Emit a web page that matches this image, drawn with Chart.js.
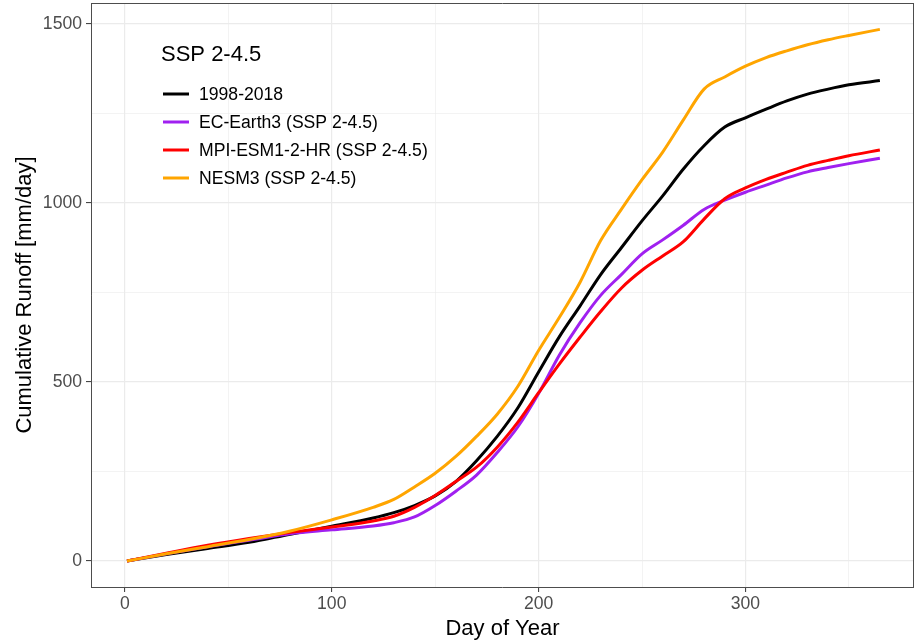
<!DOCTYPE html>
<html>
<head>
<meta charset="utf-8">
<script src="https://cdn.jsdelivr.net/npm/chart.js@4"></script>
<style>
  body { margin: 0; background: #fff; }
  #wrap { width: 914px; height: 640px; }
</style>
</head>
<body>
<div id="wrap"><canvas id="runoffChart"></canvas></div>
<script>
// Données
const days = [1, 20, 40, 60, 80, 100, 120, 130, 140, 150, 160, 170, 180, 190, 200, 210, 220, 230, 240, 250, 260, 270, 280, 290, 300, 310, 320, 330, 340, 350, 365];
const obs = [0, 18, 35, 52, 75, 97, 120, 135, 155, 182, 222, 280, 348, 428, 528, 626, 712, 800, 875, 950, 1020, 1095, 1160, 1212, 1238, 1262, 1285, 1304, 1318, 1330, 1342];
const ecEarth = [0, 20, 40, 58, 76, 87, 98, 107, 123, 155, 195, 240, 303, 375, 468, 575, 665, 742, 800, 858, 897, 938, 982, 1008, 1030, 1050, 1070, 1087, 1099, 1110, 1125];
const mpiEsm = [0, 22, 44, 63, 80, 95, 112, 125, 150, 183, 222, 262, 318, 388, 470, 550, 625, 697, 762, 812, 852, 892, 955, 1012, 1042, 1066, 1086, 1105, 1119, 1132, 1148];
const nesm = [0, 20, 40, 60, 84, 115, 150, 172, 207, 245, 292, 348, 410, 488, 588, 680, 778, 895, 982, 1065, 1142, 1232, 1318, 1352, 1382, 1406, 1425, 1442, 1456, 1468, 1485];

const seriesLabels = ['1998-2018', 'EC-Earth3 (SSP 2-4.5)', 'MPI-ESM1-2-HR (SSP 2-4.5)', 'NESM3 (SSP 2-4.5)'];
const seriesColors = ['#000000', '#A020F0', '#FF0000', '#FFA500'];
const seriesValues = [obs, ecEarth, mpiEsm, nesm];

const xTicks = [0, 50, 100, 150, 200, 250, 300, 350];
const yTicks = [0, 250, 500, 750, 1000, 1250, 1500];

const FONT = '"Liberation Sans", Arial, sans-serif';

const datasets = seriesValues.map((vals, i) => ({
    label: seriesLabels[i],
    data: days.map((d, k) => ({ x: d, y: vals[k] })),
    borderColor: seriesColors[i],
    backgroundColor: seriesColors[i],
    borderWidth: 3,
    pointRadius: 0,
    cubicInterpolationMode: 'monotone',
    order: seriesValues.length - i,
}));

// Légende dessinée dans la zone du graphique (style ggplot)
const legendPlugin = {
    id: 'innerLegend',
    afterDatasetsDraw(chart) {
        const c = chart.ctx;
        c.save();
        c.textBaseline = 'middle';
        c.textAlign = 'left';
        c.fillStyle = '#000';
        c.font = '22px ' + FONT;
        c.fillText('SSP 2-4.5', 161, 55);
        c.font = '17.6px ' + FONT;
        seriesLabels.forEach((lab, i) => {
            const y = 94 + i * 28;
            c.strokeStyle = seriesColors[i];
            c.lineWidth = 3;
            c.beginPath();
            c.moveTo(163, y);
            c.lineTo(189, y);
            c.stroke();
            c.fillStyle = '#000';
            c.fillText(lab, 199, y + 1);
        });
        // bordure haute / droite du panneau
        const a = chart.chartArea;
        c.strokeStyle = '#4d4d4d';
        c.lineWidth = 1;
        c.beginPath();
        c.moveTo(a.left, a.top + 0.5);
        c.lineTo(a.right, a.top + 0.5);
        c.moveTo(a.right - 0.5, a.top);
        c.lineTo(a.right - 0.5, a.bottom);
        c.stroke();
        c.restore();
    },
};

const ctx = document.getElementById('runoffChart').getContext('2d');
const runoffChart = new Chart(ctx, {
    type: 'line',
    data: { datasets: datasets },
    options: {
        responsive: true,
        maintainAspectRatio: false,
        animation: false,
        layout: { padding: { top: 3, right: 0, left: 0, bottom: 0 } },
        plugins: {
            legend: { display: false },
            tooltip: { enabled: false },
        },
        scales: {
            x: {
                type: 'linear',
                min: -16.4,
                max: 381.5,
                afterBuildTicks: (axis) => { axis.ticks = xTicks.map((v) => ({ value: v })); },
                afterFit: (axis) => {
                    axis.height = 53;
                    axis.paddingLeft = 0;
                    axis.paddingRight = 0;
                },
                ticks: {
                    callback: (v) => (v % 100 === 0 ? String(v) : ''),
                    color: '#4d4d4d',
                    font: { family: FONT, size: 17.6 },
                    padding: 2,
                    maxRotation: 0,
                    autoSkip: false,
                },
                grid: {
                    color: '#ebebeb',
                    lineWidth: (c) => (c.tick && c.tick.value % 100 === 0 ? 1.2 : 0.6),
                    tickColor: (c) => (c.tick && c.tick.value % 100 === 0 ? '#333' : 'rgba(0,0,0,0)'),
                    tickLength: 5,
                    tickWidth: 1,
                },
                border: { display: true, color: '#4d4d4d', width: 1 },
                title: {
                    display: true,
                    text: 'Day of Year',
                    color: '#000',
                    font: { family: FONT, size: 22 },
                    padding: { top: 0, bottom: -2 },
                },
            },
            y: {
                type: 'linear',
                min: -72.6,
                max: 1558.6,
                afterBuildTicks: (axis) => { axis.ticks = yTicks.map((v) => ({ value: v })); },
                afterFit: (axis) => {
                    axis.width = 91;
                    axis.paddingTop = 0;
                    axis.paddingBottom = 0;
                },
                ticks: {
                    callback: (v) => (v % 500 === 0 ? String(v) : ''),
                    color: '#4d4d4d',
                    font: { family: FONT, size: 17.6 },
                    padding: 4,
                    autoSkip: false,
                },
                grid: {
                    color: '#ebebeb',
                    lineWidth: (c) => (c.tick && c.tick.value % 500 === 0 ? 1.2 : 0.6),
                    tickColor: (c) => (c.tick && c.tick.value % 500 === 0 ? '#333' : 'rgba(0,0,0,0)'),
                    tickLength: 5,
                    tickWidth: 1,
                },
                border: { display: true, color: '#4d4d4d', width: 1 },
                title: {
                    display: true,
                    text: 'Cumulative Runoff [mm/day]',
                    color: '#000',
                    font: { family: FONT, size: 22 },
                    padding: { top: 12, bottom: 0 },
                },
            },
        },
    },
    plugins: [legendPlugin],
});
</script>
</body>
</html>
